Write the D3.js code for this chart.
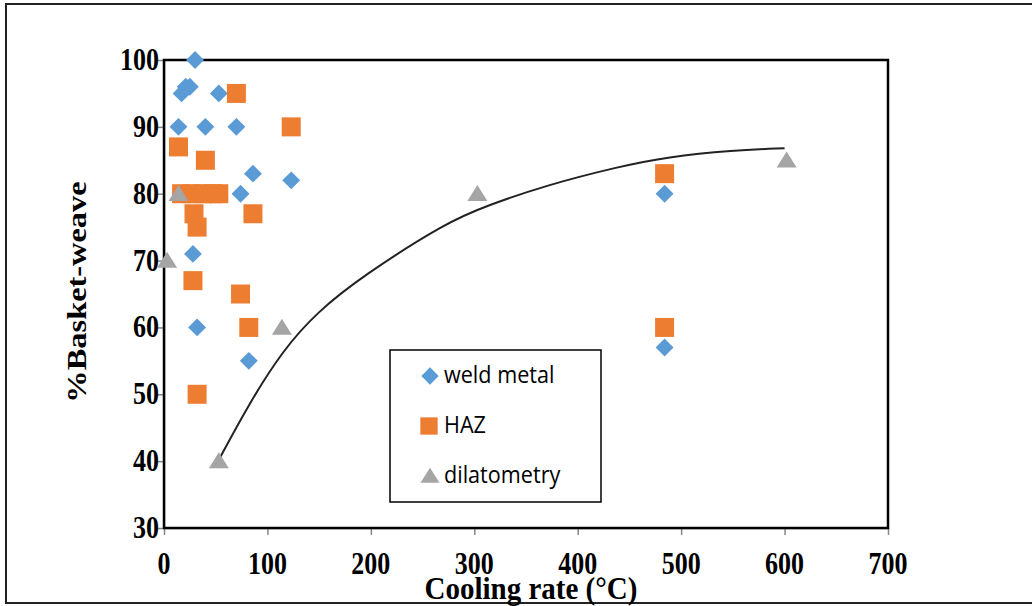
<!DOCTYPE html>
<html>
<head>
<meta charset="utf-8">
<script src="https://cdn.jsdelivr.net/npm/d3@7"></script>
<style>
  html, body { margin: 0; padding: 0; background: #fff; }
  svg { display: block; }
</style>
</head>
<body>
<svg id="chart" width="1032" height="606"></svg>
<script>
// Cooling rate (°C) vs. %Basket-weave
const weldX = [30, 17, 21, 25, 53, 14, 40, 70, 86, 123, 74, 28, 32, 82, 484, 484];
const weldY = [100, 95, 96, 96, 95, 90, 90, 90, 83, 82, 80, 71, 60, 55, 80, 57];

const hazX = [70, 123, 14, 40, 17, 27, 37, 47, 53, 29, 32, 86, 28, 74, 82, 32, 484, 484];
const hazY = [95, 90, 87, 85, 80, 80, 80, 80, 80, 77, 75, 77, 67, 65, 60, 50, 83, 60];

const dilX = [3, 14, 53, 114, 303, 602];
const dilY = [70, 80, 40, 60, 80, 85];

// hand-fitted trend curve through the dilatometry results
const trendX = [53, 83, 115, 148, 192, 274, 312, 370, 441, 486, 550, 600];
const trendY = [40.2, 48.8, 56.6, 62.3, 67.7, 75.8, 78.2, 81.3, 84.1, 85.5, 86.5, 86.8];

const xTicks = [0, 100, 200, 300, 400, 500, 600, 700];
const yTicks = [30, 40, 50, 60, 70, 80, 90, 100];

const seriesNames = ["weld metal", "HAZ", "dilatometry"];
const colors = ["#5B9BD5", "#ED7D31", "#A5A5A5"];

const svg = d3.select("#chart");
const W = 1032, H = 606;
const plot = { left: 164, right: 888, top: 60, bottom: 528 };
const serif = "'Liberation Serif', 'Times New Roman', serif";

// outer frame
svg.append("rect")
  .attr("x", 6).attr("y", 4).attr("width", W).attr("height", H - 7)
  .attr("fill", "none").attr("stroke", "#222").attr("stroke-width", 2);

const x = d3.scaleLinear().domain([0, 700]).range([plot.left, plot.right]);
const y = d3.scaleLinear().domain([30, 100]).range([plot.bottom, plot.top]);

// axes (lines and ticks from d3-axis, labels drawn below in a tall face)
const xAxis = svg.append("g")
  .attr("transform", `translate(0,${plot.bottom})`)
  .call(d3.axisBottom(x).tickValues(xTicks).tickSize(7).tickSizeOuter(0));
const yAxis = svg.append("g")
  .attr("transform", `translate(${plot.left},0)`)
  .call(d3.axisLeft(y).tickValues(yTicks).tickSize(7).tickSizeOuter(0));

[xAxis, yAxis].forEach(g => {
  g.select(".domain").attr("stroke", "#868686").attr("stroke-width", 1.5);
  g.selectAll(".tick line").attr("stroke", "#868686").attr("stroke-width", 1.5);
  g.selectAll(".tick text").remove();
});

const tickLabelStyle = sel => sel
  .attr("fill", "#000")
  .style("font-family", serif)
  .style("font-weight", "bold")
  .style("font-size", "26px");

svg.append("g").selectAll("text").data(xTicks).join("text")
  .attr("transform", d => `translate(${x(d)},${plot.bottom + 46}) scale(1,1.2)`)
  .attr("text-anchor", "middle")
  .call(tickLabelStyle)
  .text(d => d);

svg.append("g").selectAll("text").data(yTicks).join("text")
  .attr("transform", d => `translate(${plot.left - 5},${y(d) + 10}) scale(1,1.2)`)
  .attr("text-anchor", "end")
  .call(tickLabelStyle)
  .text(d => d);

// plot area border
svg.append("rect")
  .attr("x", plot.left).attr("y", plot.top)
  .attr("width", plot.right - plot.left).attr("height", plot.bottom - plot.top)
  .attr("fill", "none").attr("stroke", "#000").attr("stroke-width", 2.5);

// axis titles
svg.append("text")
  .attr("transform", `translate(${(plot.left + plot.right) / 2 + 5},599) scale(1,1.1)`)
  .attr("text-anchor", "middle")
  .style("font-family", serif)
  .style("font-weight", "bold").style("font-size", "29px")
  .text("Cooling rate (°C)");

svg.append("text")
  .attr("transform", `translate(86,${(plot.top + plot.bottom) / 2 - 2}) rotate(-90) scale(1.2,1)`)
  .attr("text-anchor", "middle")
  .style("font-family", serif)
  .style("font-weight", "bold").style("font-size", "27px")
  .text("%Basket-weave");

// trend curve
const line = d3.line().x(d => x(d[0])).y(d => y(d[1])).curve(d3.curveBasis);
svg.append("path")
  .datum(d3.zip(trendX, trendY))
  .attr("d", line)
  .attr("fill", "none").attr("stroke", "#222").attr("stroke-width", 2);

// marker shapes
const diamond = d3.symbol().type(d3.symbolSquare).size(160);
const square = d3.symbol().type(d3.symbolSquare).size(361);
function trianglePath(w, h) {
  return `M0,${-h * 0.55}L${w / 2},${h * 0.45}L${-w / 2},${h * 0.45}Z`;
}

svg.append("g").selectAll("path").data(d3.zip(weldX, weldY)).join("path")
  .attr("d", diamond)
  .attr("transform", d => `translate(${x(d[0])},${y(d[1])}) rotate(45)`)
  .attr("fill", colors[0]);

svg.append("g").selectAll("path").data(d3.zip(hazX, hazY)).join("path")
  .attr("d", square)
  .attr("transform", d => `translate(${x(d[0])},${y(d[1])})`)
  .attr("fill", colors[1]);

svg.append("g").selectAll("path").data(d3.zip(dilX, dilY)).join("path")
  .attr("d", trianglePath(20, 16))
  .attr("transform", d => `translate(${x(d[0])},${y(d[1])})`)
  .attr("fill", colors[2]);

// legend
const legend = svg.append("g").attr("transform", "translate(390,350)");
legend.append("rect")
  .attr("width", 211).attr("height", 152)
  .attr("fill", "#fff").attr("stroke", "#000").attr("stroke-width", 1.5);

const legendShapes = [
  { path: d3.symbol().type(d3.symbolSquare).size(150)(), rot: 45 },
  { path: d3.symbol().type(d3.symbolSquare).size(300)(), rot: 0 },
  { path: trianglePath(19, 15), rot: 0 }
];
seriesNames.forEach((name, i) => {
  const row = legend.append("g").attr("transform", `translate(0,${26 + i * 50})`);
  row.append("path")
    .attr("d", legendShapes[i].path)
    .attr("transform", `translate(${i === 1 ? 39 : 40},0) rotate(${legendShapes[i].rot})`)
    .attr("fill", colors[i]);
  row.append("text")
    .attr("transform", "translate(54,7) scale(1.08,1.2)")
    .style("font-family", "'Open Sans', 'Noto Sans', sans-serif")
    .style("font-size", "20px").attr("fill", "#000")
    .text(name);
});
</script>
</body>
</html>
